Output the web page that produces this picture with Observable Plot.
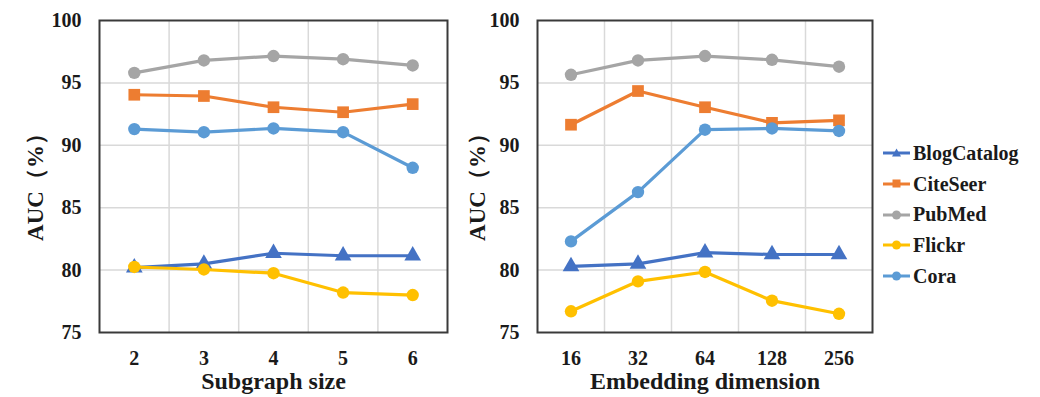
<!DOCTYPE html>
<html>
<head>
<meta charset="utf-8">
<script src="https://cdn.jsdelivr.net/npm/d3@7"></script>
<script src="https://cdn.jsdelivr.net/npm/@observablehq/plot@0.6"></script>
<style>
  html, body { margin: 0; padding: 0; background: #fff; }
  #wrap { position: relative; width: 1040px; height: 397px; display: flex; }
  #legend { position: absolute; left: 883px; top: 138px; font-family: "Liberation Serif", "Times New Roman", serif; font-weight: bold; font-size: 20px; color: #1a1a1a; }
  .row { display: flex; align-items: center; height: 30.7px; }
  .row svg { display: block; margin-right: 2px; }
</style>
</head>
<body>
<div id="wrap"><div id="legend"></div></div>
<script>
// ---- data ----
const seriesNames = ["BlogCatalog", "CiteSeer", "PubMed", "Flickr", "Cora"];
const seriesColors = ["#4472C4", "#ED7D31", "#A5A5A5", "#FFC000", "#5B9BD5"];
const seriesSymbols = ["triangle", "square", "circle", "circle", "circle"];

const subgraphSizes = ["2", "3", "4", "5", "6"];
const embeddingDims = ["16", "32", "64", "128", "256"];
const yTicks = [75, 80, 85, 90, 95, 100];

// Left panel: AUC vs subgraph size
const blogA   = [80.2, 80.5, 81.35, 81.15, 81.15];
const citeA   = [94.05, 93.95, 93.05, 92.65, 93.3];
const pubA    = [95.8, 96.8, 97.15, 96.9, 96.4];
const flickrA = [80.25, 80.05, 79.75, 78.2, 78.0];
const coraA   = [91.3, 91.05, 91.35, 91.05, 88.2];

// Right panel: AUC vs embedding dimension
const blogB   = [80.3, 80.5, 81.4, 81.25, 81.25];
const citeB   = [91.65, 94.35, 93.05, 91.8, 92.0];
const pubB    = [95.65, 96.8, 97.15, 96.85, 96.3];
const flickrB = [76.7, 79.1, 79.85, 77.55, 76.5];
const coraB   = [82.3, 86.25, 91.25, 91.35, 91.15];

const xTitleA = "Subgraph size";
const xTitleB = "Embedding dimension";
const yTitle = "AUC（%）";

// ---- build ----
const FONT = "'Liberation Serif', 'Times New Roman', serif";
const TEXT = "#1a1a1a";

function tidy(seriesArrays) {
  const rows = [];
  seriesArrays.forEach((arr, k) => arr.forEach((v, j) => rows.push({i: j + 1, v, s: seriesNames[k]})));
  return rows;
}

function panel({cats, series, xTitle, width, marginLeft, marginRight, yTitleOffset}) {
  const data = tidy(series);
  const idx = cats.map((_, j) => j + 1);
  const between = idx.slice(1).map(i => i - 0.5);
  const perSeries = seriesNames.flatMap(name => {
    const d = data.filter(r => r.s === name);
    return [
      Plot.lineY(d, {x: "i", y: "v", stroke: "s", strokeWidth: 3.2}),
      Plot.dot(d, {x: "i", y: "v", fill: "s", symbol: "s", r: name === "CiteSeer" ? 6.6 : 6.2, stroke: "none"})
    ];
  });
  return Plot.plot({
    width, height: 397,
    marginTop: 20, marginBottom: 65, marginLeft, marginRight,
    style: {fontFamily: FONT, fontWeight: "bold", fontSize: "20px", color: TEXT, background: "white", overflow: "visible"},
    x: {domain: [0.5, cats.length + 0.5], label: null},
    y: {domain: [75, 100], label: null},
    color: {domain: seriesNames, range: seriesColors},
    symbol: {domain: seriesNames, range: seriesSymbols},
    marks: [
      Plot.ruleY(yTicks.slice(1, -1), {stroke: "#d9d9d9", strokeWidth: 1.5}),
      Plot.ruleX(between, {stroke: "#d9d9d9", strokeWidth: 1.5}),
      ...perSeries,
      Plot.frame({stroke: "#3a3a3a", strokeWidth: 2}),
      Plot.axisX({ticks: idx, tickFormat: i => cats[i - 1], tickSize: 0, tickPadding: 18, label: null, fill: TEXT, fontSize: 20, fontFamily: FONT, fontWeight: "bold"}),
      Plot.axisY({ticks: yTicks, tickSize: 0, tickPadding: 18, label: null, fill: TEXT, fontSize: 20, fontFamily: FONT, fontWeight: "bold"}),
      Plot.text([xTitle], {frameAnchor: "bottom", textAnchor: "middle", lineAnchor: "bottom", dy: 56, fontSize: 24, fontFamily: FONT, fontWeight: "bold", fill: TEXT}),
      Plot.text([yTitle], {frameAnchor: "left", textAnchor: "middle", lineAnchor: "middle", dx: -yTitleOffset, dy: 5, rotate: -90, fontSize: 23, fontFamily: FONT, fontWeight: "bold", fill: TEXT})
    ]
  });
}

const wrap = document.getElementById("wrap");
const left = panel({cats: subgraphSizes, series: [blogA, citeA, pubA, flickrA, coraA], xTitle: xTitleA,
  width: 460, marginLeft: 99, marginRight: 13, yTitleOffset: 64});
const right = panel({cats: embeddingDims, series: [blogB, citeB, pubB, flickrB, coraB], xTitle: xTitleB,
  width: 420, marginLeft: 77, marginRight: 8, yTitleOffset: 60});
wrap.insertBefore(left, wrap.firstChild);
wrap.insertBefore(right, document.getElementById("legend"));

// legend
const legend = document.getElementById("legend");
seriesNames.forEach((name, k) => {
  const row = document.createElement("div");
  row.className = "row";
  const c = seriesColors[k];
  let marker;
  if (seriesSymbols[k] === "triangle") marker = `<path d="M13.5,3.5 L18,11.5 L9,11.5 Z" fill="${c}"/>`;
  else if (seriesSymbols[k] === "square") marker = `<rect x="9.5" y="3.5" width="8" height="8" fill="${c}"/>`;
  else marker = `<circle cx="13.5" cy="8" r="4.5" fill="${c}"/>`;
  row.innerHTML = `<svg width="28" height="16"><line x1="0" y1="8" x2="27" y2="8" stroke="${c}" stroke-width="3"/>${marker}</svg><span>${name}</span>`;
  legend.appendChild(row);
});
</script>
</body>
</html>
